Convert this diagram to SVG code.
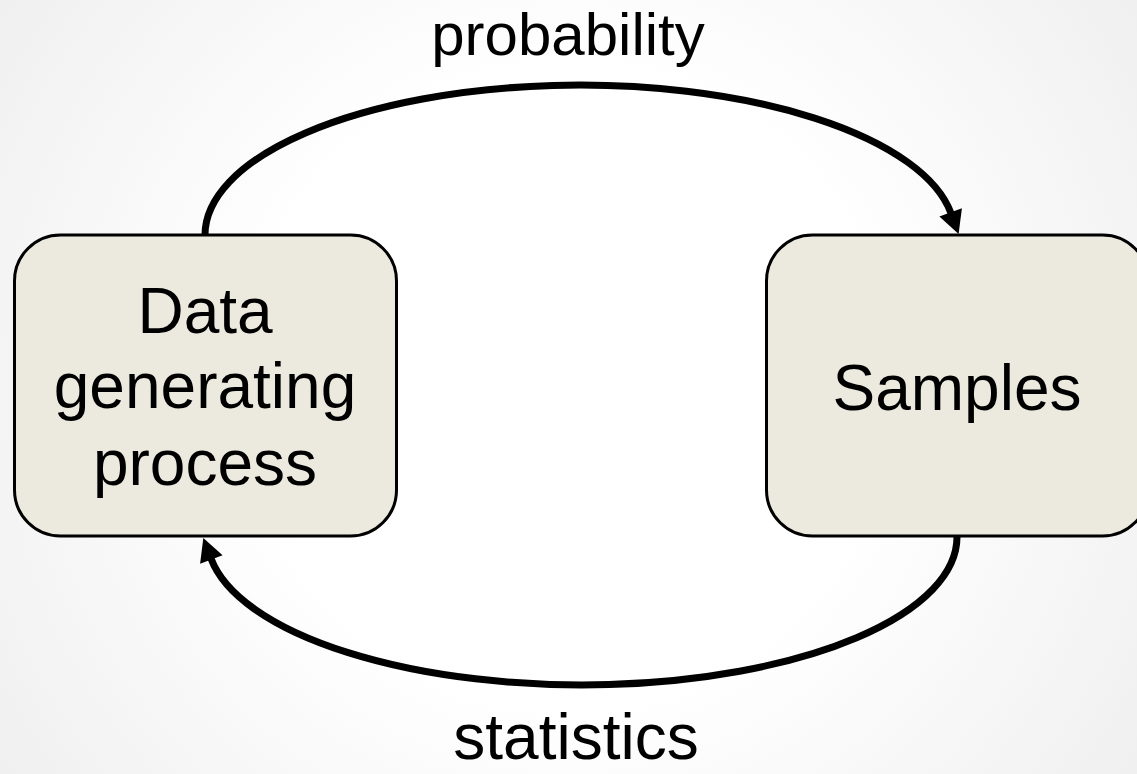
<svg xmlns="http://www.w3.org/2000/svg" width="1137" height="774" viewBox="0 0 1137 774">
  <defs>
    <radialGradient id="bg" cx="568" cy="387" r="700" gradientUnits="userSpaceOnUse">
      <stop offset="0" stop-color="#ffffff"/>
      <stop offset="0.45" stop-color="#ffffff"/>
      <stop offset="1" stop-color="#efefef"/>
    </radialGradient>
    <marker id="arrow" markerUnits="userSpaceOnUse" markerWidth="24" markerHeight="24" viewBox="0 0 23 24" refX="1" refY="12" orient="auto">
      <path d="M0,0 L23,12 L0,24 z" fill="#000"/>
    </marker>
    <style>
      .box { fill: #ECE9DF; stroke: #000; stroke-width: 3; }
      .lbl { font-family: "Liberation Sans", Arial, sans-serif; font-size: 64px; fill: #000; text-anchor: middle; }
      .edge { fill: none; stroke: #000; stroke-width: 7; marker-end: url(#arrow); }
    </style>
  </defs>
  <rect x="0" y="0" width="1137" height="774" fill="url(#bg)"/>

  <g id="connectors">
    <path class="edge" d="M205,235 A375,150 0 0 1 951,213.25"/>
    <path class="edge" d="M957,537 A375,148 0 0 1 211,558.5"/>
  </g>

  <g id="node-dgp">
    <rect class="box" x="14.5" y="235" width="382" height="301" rx="46" ry="46"/>
    <text class="lbl" x="205" y="333">Data</text>
    <text class="lbl" x="205" y="408">generating</text>
    <text class="lbl" x="205" y="485">process</text>
  </g>

  <g id="node-samples">
    <rect class="box" x="766.5" y="235" width="382" height="301" rx="46" ry="46"/>
    <text class="lbl" x="957" y="410">Samples</text>
  </g>

  <g id="label-probability">
    <text class="lbl" x="568" y="55" style="font-size:60px">probability</text>
  </g>
  <g id="label-statistics">
    <text class="lbl" x="576" y="759">statistics</text>
  </g>
</svg>
